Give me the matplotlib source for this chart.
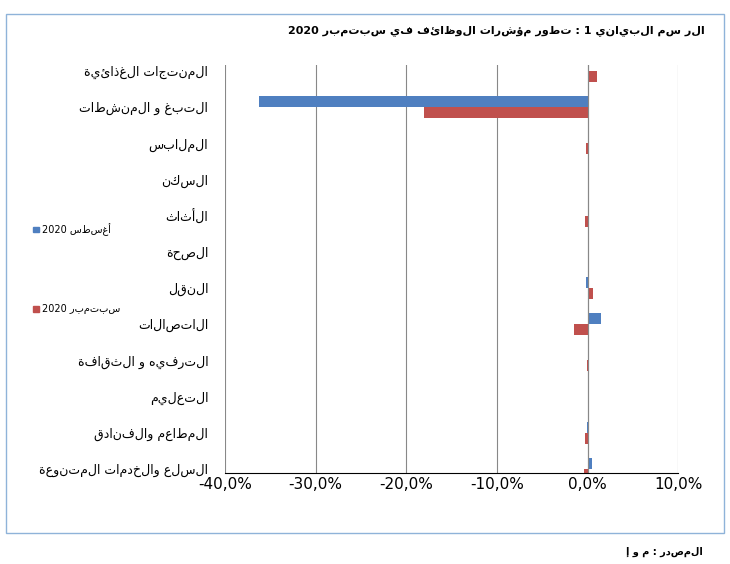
import matplotlib
matplotlib.use("Agg")
import matplotlib.pyplot as plt
from matplotlib.patches import Rectangle

categories = ["المنتجات الغذائية", "التبغ و المنشطات", "الملابس", "السكن", "الأثاث",
              "الصحة", "النقل", "الاتصالات", "الترفيه و الثقافة", "التعليم",
              "المطاعم والفنادق", "السلع والخدمات المتنوعة"]
aug_2020 = [0.0, -36.2, 0.1, 0.0, 0.1, 0.2, -0.2, 1.5, 0.0, 0.0, -0.1, 0.5]
sep_2020 = [1.1, -18.0, -0.2, 0.1, -0.3, 0.0, 0.6, -1.5, -0.1, 0.0, -0.3, -0.4]
x_ticks = [-40, -30, -20, -10, 0, 10]
title = "الر سم البياني 1 : تطور مؤشرات الوظائف في سبتمبر 2020"
source = "المصدر : م و إ"
leg_aug = "أغسطس 2020"
leg_sep = "سبتمبر 2020"


def rtl(s):
    # no shaping available: just reverse words/letters so it reads right-to-left
    out = []
    for w in s.split(" ")[::-1]:
        out.append(w if w.isdigit() else w[::-1])
    return " ".join(out)


blue, red = "#4f7fc0", "#c0504d"
fig = plt.figure(figsize=(7.30, 5.64), dpi=100)
fig.add_artist(Rectangle((0.008, 0.055), 0.984, 0.92, transform=fig.transFigure,
                         fill=False, edgecolor="#8fb3d9", lw=1))
ax = fig.add_axes([0.308, 0.162, 0.621, 0.723])

n = len(categories)
ys = list(range(n))
h = 0.3
ax.barh([y - h / 2 for y in ys], aug_2020, height=h, color=blue)
ax.barh([y + h / 2 for y in ys], sep_2020, height=h, color=red)
ax.set_ylim(n - 0.9, -0.17)
ax.set_xlim(-40, 10)
ax.set_xticks(x_ticks)
ax.set_xticklabels([f"{t},0%" for t in x_ticks], fontsize=11)
ax.set_yticks(ys)
ax.set_yticklabels([rtl(c) for c in categories], fontsize=9, family="DejaVu Sans")
ax.grid(axis="x", color="#888888", lw=0.8)
ax.set_axisbelow(True)
for s in ["top", "right"]:
    ax.spines[s].set_visible(False)
ax.spines["left"].set_visible(False)
ax.axvline(0, color="#888888", lw=0.8)
ax.tick_params(axis="y", length=0, pad=12)
ax.tick_params(axis="x", length=0)

fig.text(0.965, 0.945, rtl(title), ha="right", va="center", fontsize=8, weight="bold")
fig.text(0.963, 0.022, rtl(source), ha="right", va="center", fontsize=7, weight="bold")
fig.add_artist(Rectangle((0.045, 0.588), 0.008, 0.01, transform=fig.transFigure, color=blue))
fig.text(0.057, 0.593, rtl(leg_aug), va="center", fontsize=7)
fig.add_artist(Rectangle((0.045, 0.447), 0.008, 0.01, transform=fig.transFigure, color=red))
fig.text(0.057, 0.452, rtl(leg_sep), va="center", fontsize=7)

fig.savefig("out.png", dpi=100)
